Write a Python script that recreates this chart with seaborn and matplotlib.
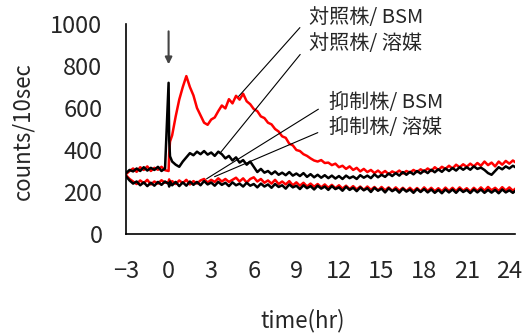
import numpy as np
import pandas as pd
import matplotlib
matplotlib.use("Agg")
import matplotlib.pyplot as plt
import seaborn as sns

# time grid (hr)
t = np.concatenate([np.arange(-3, 0, 0.25), [0.0, 0.04, 0.10], np.arange(0.25, 24.51, 0.25)])

ctrl_bsm = [  # red
    285, 300, 312, 296, 318, 305, 322, 300, 315, 306, 320, 304,
    300, 380, 440,
    470, 560, 640,
    700, 752, 700, 660,
    600, 565, 530, 520,
    545, 555, 585, 612,
    598, 642, 622, 658,
    640, 668, 632, 618,
    595, 585, 560, 552,
    530, 522, 500, 488,
    465, 458, 430, 422,
    400, 395, 380, 372,
    360, 350, 345, 352,
    338, 340, 328, 335,
    318, 325, 310, 322,
    305, 315, 298, 310,
    295, 305, 290, 302,
    288, 300, 285, 298,
    290, 302, 288, 300,
    292, 305, 295, 308,
    298, 312, 300, 318,
    305, 320, 310, 325,
    312, 330, 318, 332,
    320, 335, 322, 338,
    325, 345, 328, 340,
    322, 345, 330, 348,
    335, 350, 338,
]
ctrl_solv = [  # black
    290, 305, 298, 312, 300, 318, 302, 315, 305, 320, 300, 312,
    720, 450, 370,
    345, 330, 320,
    345, 365, 385, 375,
    392, 380, 395, 378,
    388, 372, 392, 380,
    360, 372, 350, 365,
    340, 352, 330, 345,
    320, 295, 310, 292,
    300, 285, 298, 282,
    292, 280, 295, 278,
    288, 276, 290, 272,
    285, 270, 282, 268,
    280, 266, 278, 264,
    276, 262, 278, 266,
    274, 262, 280, 268,
    278, 266, 284, 270,
    282, 272, 288, 276,
    290, 278, 295, 282,
    296, 284, 300, 288,
    302, 290, 306, 294,
    308, 296, 312, 300,
    314, 302, 318, 306,
    318, 306, 322, 310,
    316, 305, 290, 282,
    300, 318, 308, 322,
    312, 325, 315,
]
supp_bsm = [  # red
    280, 262, 250, 238, 255, 242, 258, 236, 250, 240, 256, 244,
    248, 260, 240,
    252, 238, 255,
    242, 258, 236, 252,
    240, 255, 262, 245,
    258, 248, 265, 250,
    262, 248, 258, 268,
    250, 265, 245, 262,
    270, 250, 262, 244,
    255, 240, 258, 238,
    250, 236, 252, 232,
    246, 230, 244, 226,
    240, 225, 238, 222,
    236, 220, 234, 218,
    232, 216, 230, 214,
    228, 212, 226, 210,
    226, 210, 224, 208,
    224, 208, 222, 206,
    222, 206, 220, 205,
    220, 204, 219, 203,
    222, 205, 220, 204,
    218, 203, 221, 205,
    220, 204, 222, 206,
    218, 202, 220, 205,
    222, 206, 224, 208,
    220, 205, 223, 207,
    222, 206, 220,
]
supp_solv = [  # black
    275, 255, 240, 250, 232, 246, 228, 244, 230, 248, 234, 250,
    238, 226, 250,
    232, 248, 228,
    246, 230, 250, 234,
    248, 232, 252, 236,
    245, 230, 248, 234,
    244, 228, 246, 232,
    240, 226, 244, 230,
    238, 222, 240, 226,
    236, 220, 238, 224,
    232, 216, 236, 222,
    230, 214, 232, 218,
    228, 212, 230, 216,
    226, 210, 228, 214,
    222, 206, 225, 210,
    220, 204, 222, 208,
    218, 200, 220, 206,
    216, 198, 218, 204,
    214, 197, 216, 202,
    212, 196, 214, 200,
    214, 198, 212, 196,
    210, 194, 212, 198,
    212, 196, 214, 200,
    210, 195, 212, 198,
    212, 196, 210, 197,
    210, 194, 212, 198,
    208, 196, 210,
]

series_labels = ["対照株/ BSM", "対照株/ 溶媒", "抑制株/ BSM", "抑制株/ 溶媒"]
x_ticks = [-3, 0, 3, 6, 9, 12, 15, 18, 21, 24]
y_ticks = [0, 200, 400, 600, 800, 1000]

sns.set_theme(style="white")
plt.rcParams["font.family"] = ["Noto Sans CJK JP", "DejaVu Sans"]

fig = plt.figure(figsize=(5.25, 3.34), dpi=100)
ax = fig.add_axes([126/525, 1-234/334, (515-126)/525, (234-24)/334])

order = [(ctrl_bsm, "#ff0000"), (supp_bsm, "#ff0000"), (supp_solv, "#000000"), (ctrl_solv, "#000000")]
for vals, col in order:
    sns.lineplot(x=t, y=vals, color=col, lw=1.8, ax=ax, estimator=None)

ax.set_xlim(-3, 24.4)
ax.set_ylim(0, 1000)
ax.set_xticks(x_ticks)
ax.set_yticks(y_ticks)
ax.set_xticklabels([str(v).replace("-", "\u2212") for v in x_ticks])
ax.tick_params(direction="in", length=6, width=1, labelsize=17, color="black")
ax.tick_params(axis="y", pad=17)
ax.tick_params(axis="x", pad=19)
for s in ["top", "right"]:
    ax.spines[s].set_visible(False)
for s in ["left", "bottom"]:
    ax.spines[s].set_color("black")
    ax.spines[s].set_linewidth(1.2)

ax.set_xlabel("time(hr)", fontsize=16)
ax.set_ylabel("counts/10sec", fontsize=16)
ax.xaxis.set_label_coords((303-126)/389, -0.355)
ax.yaxis.set_label_coords(-0.235, 0.49)

# injection arrow
ax.annotate("", xy=(0, 808), xytext=(0, 965),
            arrowprops=dict(arrowstyle="-|>", color="#444444", lw=1.5, mutation_scale=10,
                            shrinkA=0, shrinkB=0), annotation_clip=False)

# labels with leader lines
ann = [
    (series_labels[0], (4.93, 655), (9.87, 1030)),
    (series_labels[1], (3.66, 388), (9.87, 905)),
    (series_labels[2], (2.68, 263), (11.28, 625)),
    (series_labels[3], (3.24, 273), (11.28, 505)),
]
for txt, xy, xyt in ann:
    ax.annotate(txt, xy=xy, xytext=xyt, ha="left", va="center", fontsize=14.5,
                annotation_clip=False,
                arrowprops=dict(arrowstyle="-", color="black", lw=0.8,
                                relpos=(0, 0.5), shrinkA=6, shrinkB=0))

fig.savefig("out.png", dpi=100)
